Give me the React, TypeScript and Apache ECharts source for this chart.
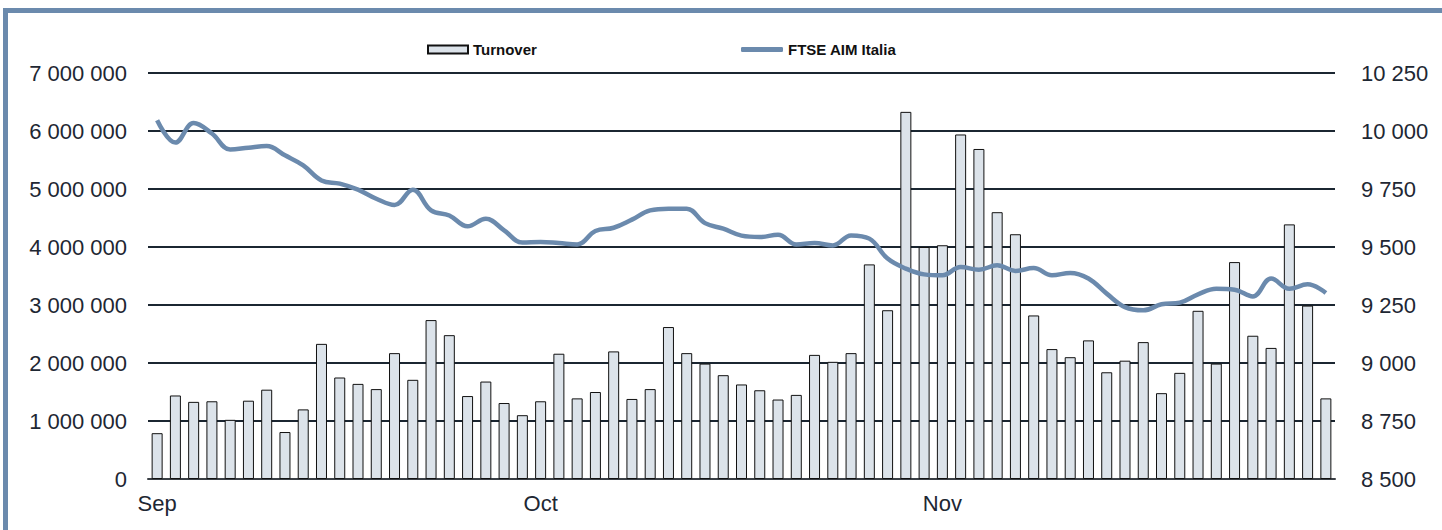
import React, { useEffect, useRef } from "react";
import * as echarts from "echarts";

const dates: string[] = [
  "01/09", "04/09", "05/09", "06/09", "07/09", "08/09", "11/09", "12/09", "13/09", "14/09",
  "15/09", "18/09", "19/09", "20/09", "21/09", "22/09", "25/09", "26/09", "27/09", "28/09",
  "29/09", "02/10", "03/10", "04/10", "05/10", "06/10", "09/10", "10/10", "11/10", "12/10",
  "13/10", "16/10", "17/10", "18/10", "19/10", "20/10", "23/10", "24/10", "25/10", "26/10",
  "27/10", "30/10", "31/10", "01/11", "02/11", "03/11", "06/11", "07/11", "08/11", "09/11",
  "10/11", "13/11", "14/11", "15/11", "16/11", "17/11", "20/11", "21/11", "22/11", "23/11",
  "24/11", "27/11", "28/11", "29/11", "30/11",
];

const monthStarts: string[] = ["01/09", "02/10", "01/11"];
const monthNames: string[] = ["Sep", "Oct", "Nov"];

const turnover: number[] = [
  790000, 1440000, 1330000, 1340000, 1020000, 1350000, 1540000, 810000, 1200000, 2330000,
  1750000, 1640000, 1550000, 2170000, 1710000, 2740000, 2480000, 1430000, 1680000, 1310000,
  1100000, 1340000, 2160000, 1390000, 1500000, 2200000, 1380000, 1550000, 2620000, 2170000,
  1990000, 1790000, 1630000, 1530000, 1370000, 1450000, 2140000, 2020000, 2170000, 3700000,
  2910000, 6330000, 4000000, 4030000, 5940000, 5690000, 4600000, 4220000, 2820000, 2240000,
  2100000, 2390000, 1840000, 2040000, 2360000, 1480000, 1830000, 2900000, 1990000, 3740000,
  2470000, 2260000, 4390000, 2990000, 1390000,
];

const ftseAim: number[] = [
  10046, 9950, 10034, 9989, 9920, 9928, 9935, 9895, 9852, 9787,
  9773, 9747, 9708, 9681, 9747, 9658, 9636, 9589, 9622, 9572,
  9519, 9522, 9517, 9511, 9569, 9583, 9618, 9658, 9665, 9665,
  9603, 9579, 9549, 9543, 9553, 9511, 9517, 9507, 9550, 9536,
  9450, 9407, 9382, 9378, 9414, 9402, 9421, 9397, 9409, 9378,
  9388, 9364, 9299, 9241, 9227, 9253, 9260, 9296, 9320, 9316,
  9287, 9364, 9320, 9339, 9302,
];

const fmtSpace = (v: number) =>
  String(Math.round(v)).replace(/\B(?=(\d{3})+(?!\d))/g, " ");

const FONT = "'Liberation Sans', Arial, sans-serif";
const TEXT = "#1e2733";
const FRAME = "#6b8aad";

const legendText = {
  fontFamily: FONT,
  fontWeight: "bold",
  fontSize: 15,
  color: "#111",
};

export default function App() {
  const ref = useRef<HTMLDivElement>(null);

  useEffect(() => {
    if (!ref.current) return;
    const chart = echarts.init(ref.current, undefined, { renderer: "svg" });
    chart.setOption({
      animation: false,
      backgroundColor: "#ffffff",
      grid: { left: 148, right: 107, top: 73, bottom: 51, containLabel: false },
      graphic: [
        { type: "rect", shape: { x: 3, y: 8, width: 1439, height: 5 }, style: { fill: FRAME } },
        { type: "rect", shape: { x: 3, y: 8, width: 5, height: 522 }, style: { fill: FRAME } },
      ],
      legend: [
        {
          data: ["Turnover"],
          left: 427,
          top: 42,
          padding: 0,
          itemWidth: 40,
          itemHeight: 8,
          icon: "rect",
          textStyle: legendText,
        },
        {
          data: ["FTSE AIM Italia"],
          left: 741,
          top: 42,
          padding: 0,
          itemWidth: 42,
          itemHeight: 5,
          icon: "roundRect",
          itemStyle: { color: FRAME },
          textStyle: legendText,
        },
      ],
      xAxis: {
        type: "category",
        data: dates,
        boundaryGap: true,
        axisTick: { show: false },
        axisLine: { show: true, lineStyle: { color: "#3a3f45", width: 2 } },
        axisLabel: {
          interval: (_i: number, v: string) => monthStarts.indexOf(v) >= 0,
          formatter: (v: string) => {
            const k = monthStarts.indexOf(v);
            return k >= 0 ? monthNames[k] : "";
          },
          fontFamily: FONT,
          fontSize: 22,
          color: TEXT,
          margin: 13,
        },
      },
      yAxis: [
        {
          type: "value",
          min: 0,
          max: 7000000,
          interval: 1000000,
          axisLine: { show: false },
          axisTick: { show: false },
          splitLine: { show: true, lineStyle: { color: "#1b2631", width: 2 } },
          axisLabel: {
            formatter: (v: number) => fmtSpace(v),
            fontFamily: FONT,
            fontSize: 22,
            color: TEXT,
            margin: 21,
          },
        },
        {
          type: "value",
          min: 8500,
          max: 10250,
          interval: 250,
          position: "right",
          axisLine: { show: false },
          axisTick: { show: false },
          splitLine: { show: false },
          axisLabel: {
            formatter: (v: number) => fmtSpace(v),
            fontFamily: FONT,
            fontSize: 22,
            color: TEXT,
            margin: 26,
          },
        },
      ],
      series: [
        {
          name: "Turnover",
          type: "bar",
          data: turnover,
          barWidth: 11,
          yAxisIndex: 0,
          itemStyle: { color: "#dce3ea", borderColor: "#111", borderWidth: 1 },
          z: 2,
        },
        {
          name: "FTSE AIM Italia",
          type: "line",
          data: ftseAim,
          yAxisIndex: 1,
          smooth: 0.4,
          symbol: "none",
          lineStyle: { color: FRAME, width: 4.5 },
          itemStyle: { color: FRAME },
          z: 3,
        },
      ],
    });
    return () => chart.dispose();
  }, []);

  return (
    <div
      ref={ref}
      style={{ position: "absolute", left: 0, top: 0, width: 1442, height: 530 }}
    />
  );
}
